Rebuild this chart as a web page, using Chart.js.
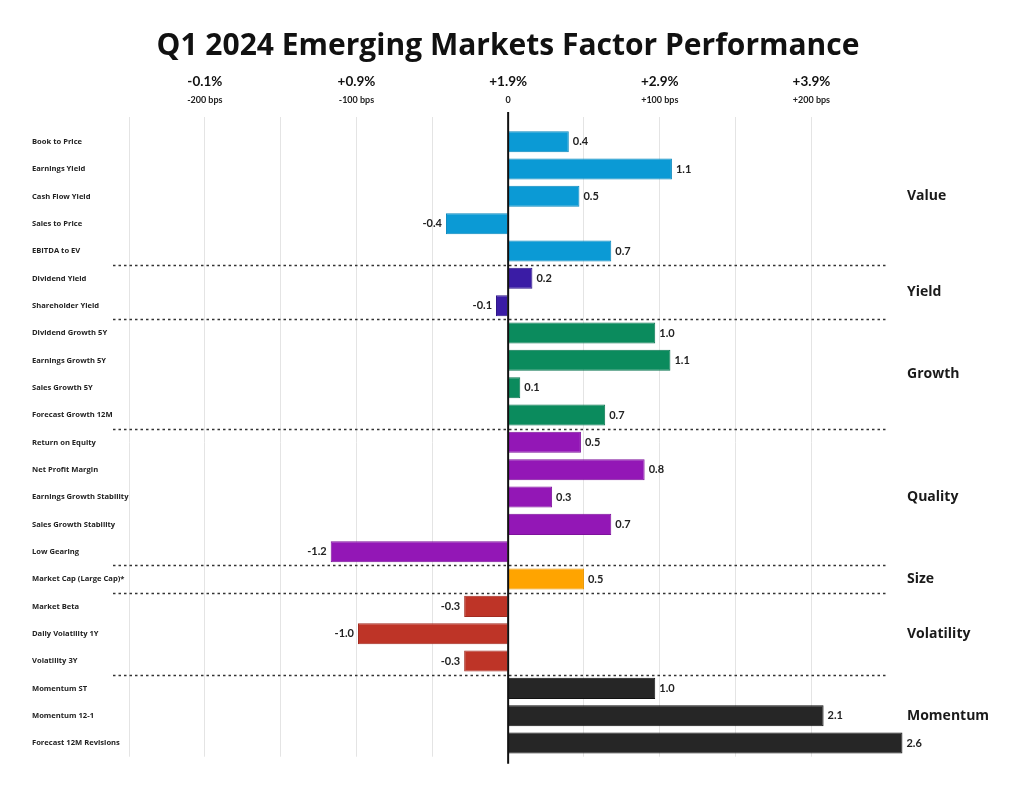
<!DOCTYPE html>
<html><head><meta charset="utf-8">
<script src="https://cdn.jsdelivr.net/npm/chart.js@4.4.1/dist/chart.umd.min.js"></script>
<style>html,body{margin:0;padding:0;background:#fff}#wrap{width:1024px;height:796px;position:relative}</style>
</head><body><div id="wrap"><canvas id="c"></canvas></div>
<script>
const chartTitle = 'Q1 2024 Emerging Markets Factor Performance';
const categories = ['Book to Price','Earnings Yield','Cash Flow Yield','Sales to Price','EBITDA to EV',
  'Dividend Yield','Shareholder Yield',
  'Dividend Growth 5Y','Earnings Growth 5Y','Sales Growth 5Y','Forecast Growth 12M',
  'Return on Equity','Net Profit Margin','Earnings Growth Stability','Sales Growth Stability','Low Gearing',
  'Market Cap (Large Cap)*',
  'Market Beta','Daily Volatility 1Y','Volatility 3Y',
  'Momentum ST','Momentum 12-1','Forecast 12M Revisions'];
// bar lengths
const values = [0.40, 1.08, 0.47, -0.41, 0.68,
  0.16, -0.08,
  0.97, 1.07, 0.08, 0.64,
  0.48, 0.90, 0.29, 0.68, -1.17,
  0.50,
  -0.29, -0.99, -0.29,
  0.97, 2.08, 2.60];
// numbers printed next to the bars
const shownValues = [0.4, 1.1, 0.5, -0.4, 0.7,
  0.2, -0.1,
  1.0, 1.1, 0.1, 0.7,
  0.5, 0.8, 0.3, 0.7, -1.2,
  0.5,
  -0.3, -1.0, -0.3,
  1.0, 2.1, 2.6];
const groupNames = ['Value','Yield','Growth','Quality','Size','Volatility','Momentum'];
const groupSizes = [5, 2, 4, 5, 1, 3, 3];
const groupColors = ['#0B9AD5','#3A1CA5','#0B8B5D','#9317B6','#FFA400','#BE3427','#262626'];
const groupBorders = ['#0A88BD','#2E1588','#0A7550','#7E129C','#E89500','#A32B20','#111111'];
const tickValues = [-2, -1, 0, 1, 2];
const pctLabels = ['-0.1%', '+0.9%', '+1.9%', '+2.9%', '+3.9%'];
const bpsLabels = ['-200 bps', '-100 bps', '0', '+100 bps', '+200 bps'];

const FONT = 'Lato, "Open Sans", sans-serif';
const FONT2 = '"Open Sans", Lato, sans-serif';
const barColors = [], barBorders = [];
groupSizes.forEach((n, g) => { for (let k = 0; k < n; k++) { barColors.push(groupColors[g]); barBorders.push(groupBorders[g]); } });

function tickLabel(arr, v) {
  const i = tickValues.findIndex(t => Math.abs(t - v) < 1e-9);
  return i >= 0 ? arr[i] : '';
}

const deco = {
  id: 'deco',
  afterDatasetsDraw(chart) {
    const {ctx, chartArea, scales: {x, y}} = chart;
    const meta = chart.getDatasetMeta(0);
    ctx.save();
    // dashed group separators
    ctx.strokeStyle = '#333'; ctx.lineWidth = 1.5; ctx.setLineDash([2.5, 3]);
    let idx = 0;
    groupSizes.forEach((n, g) => {
      idx += n;
      if (g < groupSizes.length - 1) {
        const yy = Math.round((y.getPixelForValue(idx - 1) + y.getPixelForValue(idx)) / 2) + 0.5;
        ctx.beginPath(); ctx.moveTo(chartArea.left - 16, yy); ctx.lineTo(x.getPixelForValue(2.5), yy); ctx.stroke();
      }
    });
    // zero line
    ctx.setLineDash([]); ctx.strokeStyle = '#111'; ctx.lineWidth = 2;
    const x0 = x.getPixelForValue(0);
    ctx.beginPath(); ctx.moveTo(x0, chartArea.top - 16); ctx.lineTo(x0, chartArea.bottom + 7); ctx.stroke();
    // value labels
    ctx.font = 'bold 11px ' + FONT; ctx.fillStyle = '#222'; ctx.textBaseline = 'middle';
    meta.data.forEach((bar, i) => {
      const txt = shownValues[i].toFixed(1);
      if (values[i] >= 0) { ctx.textAlign = 'left'; ctx.fillText(txt, bar.x + 4, bar.y); }
      else { ctx.textAlign = 'right'; ctx.fillText(txt, bar.x - 4, bar.y); }
    });
    // group labels
    ctx.font = 'bold 14px ' + FONT2; ctx.fillStyle = '#1a1a1a'; ctx.textAlign = 'left';
    idx = 0;
    groupSizes.forEach((n, g) => {
      const yc = (y.getPixelForValue(idx) + y.getPixelForValue(idx + n - 1)) / 2;
      ctx.fillText(groupNames[g], chartArea.right, yc);
      idx += n;
    });
    // title
    ctx.font = 'bold 30px ' + FONT2; ctx.fillStyle = '#111'; ctx.textAlign = 'center';
    ctx.fillText(chartTitle, 508, 46);
    ctx.restore();
  }
};

new Chart(document.getElementById('c'), {
  type: 'bar',
  data: {
    labels: categories,
    datasets: [{
      data: values,
      backgroundColor: barColors,
      borderColor: barBorders,
      borderWidth: 1,
      barPercentage: 0.77,
      categoryPercentage: 1
    }]
  },
  options: {
    indexAxis: 'y',
    responsive: true,
    maintainAspectRatio: false,
    animation: false,
    layout: {padding: {top: 62.8, left: 32, right: 117, bottom: 39.3}},
    plugins: {legend: {display: false}, tooltip: {enabled: false}, title: {display: false}},
    scales: {
      y: {
        type: 'category', position: 'left',
        grid: {display: false}, border: {display: false},
        ticks: {crossAlign: 'far', autoSkip: false, padding: 0, color: '#222', font: {family: FONT2, size: 7.6, weight: 'bold'}},
        afterFit(s) { s.width = 97; }
      },
      x: {
        type: 'linear', position: 'top', weight: 0, min: -2.5, max: 2.63,
        grid: {
          color: c => (c.tick && Math.abs(c.tick.value) > 1e-9 && c.tick.value <= 2.0001) ? '#e4e4e4' : 'rgba(0,0,0,0)',
          lineWidth: 1, drawTicks: true, tickLength: 11
        },
        border: {display: false},
        ticks: {stepSize: 0.5, autoSkip: false, maxRotation: 0, padding: 11.6, color: '#222',
          font: {family: FONT, size: 9, weight: 'bold'}, callback: v => tickLabel(bpsLabels, v)},
        afterFit(s) { s.height = 34; }
      },
      x2: {
        type: 'linear', position: 'top', weight: 1, min: -2.5, max: 2.63,
        grid: {display: false, drawTicks: false}, border: {display: false},
        ticks: {stepSize: 0.5, autoSkip: false, maxRotation: 0, padding: 3.9, color: '#111',
          font: {family: FONT, size: 13.5, weight: 'bold'}, callback: v => tickLabel(pctLabels, v)},
        afterFit(s) { s.height = 31.2; }
      }
    }
  },
  plugins: [deco]
});
</script></body></html>
